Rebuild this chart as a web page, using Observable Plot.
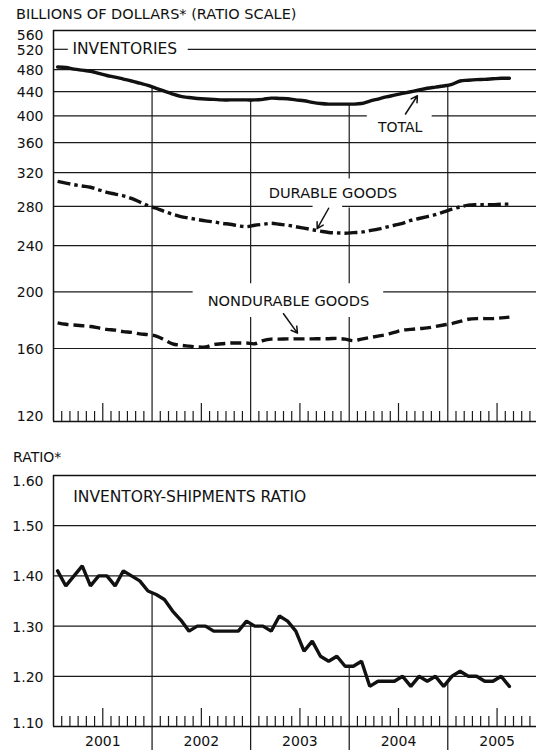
<!DOCTYPE html>
<html><head><meta charset="utf-8">
<script src="https://cdn.jsdelivr.net/npm/d3@7"></script>
<script src="https://cdn.jsdelivr.net/npm/@observablehq/plot@0.6"></script>
<style>
body{margin:0;background:#fff;}
#wrap{position:relative;width:536px;height:750px;overflow:hidden;font-family:"DejaVu Sans",sans-serif;color:#111;background:#fff;}
.lbl{position:absolute;white-space:nowrap;line-height:1;}
.panel{position:absolute;left:0;}
</style></head><body>
<div id="wrap">
  <div class="panel" id="topPanel" style="top:0px"></div>
  <div class="panel" id="botPanel" style="top:440px"></div>
  <div class="lbl" style="left:16px;top:7px;font-size:14.5px">BILLIONS OF DOLLARS* (RATIO SCALE)</div>
  <div class="lbl" style="left:13px;top:450px;font-size:14px">RATIO*</div>
</div>
<script>
// ---------- data ----------
const months = [
 "2001-01","2001-02","2001-03","2001-04","2001-05","2001-06","2001-07","2001-08","2001-09","2001-10","2001-11","2001-12",
 "2002-01","2002-02","2002-03","2002-04","2002-05","2002-06","2002-07","2002-08","2002-09","2002-10","2002-11","2002-12",
 "2003-01","2003-02","2003-03","2003-04","2003-05","2003-06","2003-07","2003-08","2003-09","2003-10","2003-11","2003-12",
 "2004-01","2004-02","2004-03","2004-04","2004-05","2004-06","2004-07","2004-08","2004-09","2004-10","2004-11","2004-12",
 "2005-01","2005-02","2005-03","2005-04","2005-05","2005-06","2005-07","2005-08"];
const total = [485,484,481,479,477,473,469,466,462.5,459,455,451,
 446,441,436,432,430,428.5,427.5,427,426,426,426,426,
 426,427,429,428.5,428,426,424.7,422,420,419,419,419,
 419,420,424,427.5,431,434,437,440,443,446,448,450,
 453,459,460.4,461.5,462,463,464,464];
const durable = [309,307,305,303.5,302,299,296,294,292,289,285,281,
 278,274.5,271.5,269,267.5,266,264.5,263.5,262,261,259.5,258.5,
 260,261,262,261,260,258.5,257,255.5,254,252.7,252.3,252,
 252.5,253,254.5,256,258,260,262,265,267,269,271,274,
 277,279.5,281.5,282,282,282,282.5,282.5];
const nondurable = [177,176,175.5,175,174.5,173.5,172.5,172,171,170.5,169.5,169,
 168,165.5,163,162,161.5,161,161,162.5,163,163.5,163.5,163.5,
 163,165,166,166,166.2,166.2,166.2,166.2,166.3,166.3,166.5,166,
 165,166,167,168,169,170.5,172,172.5,173,173.5,174.5,175.5,
 176.5,178,179.5,180,180,180,180.5,181];
const ratio = [1.41,1.38,1.40,1.42,1.38,1.40,1.40,1.38,1.41,1.40,1.39,1.37,
 1.363,1.353,1.33,1.312,1.29,1.30,1.30,1.29,1.29,1.29,1.29,1.31,
 1.30,1.30,1.29,1.32,1.31,1.29,1.25,1.27,1.24,1.23,1.24,1.22,
 1.22,1.23,1.18,1.19,1.19,1.19,1.20,1.18,1.20,1.19,1.20,1.18,
 1.20,1.21,1.20,1.20,1.19,1.19,1.20,1.18];
const years = ["2001","2002","2003","2004","2005"];
const invTicks = [560,520,480,440,400,360,320,280,240,200,160,120];
const ratioTicks = [1.60,1.50,1.40,1.30,1.20,1.10];
// label texts and their anchor points (in data units: month index, value)
const invLabels = [
 {text:"INVENTORIES", m:2.3, v:520, anchor:"start", size:15.5},
 {text:"TOTAL", m:42.2, v:382, anchor:"middle", size:14},
 {text:"DURABLE GOODS", m:34.0, v:294.5, anchor:"middle", size:14.6},
 {text:"NONDURABLE GOODS", m:28.6, v:192.6, anchor:"middle", size:14.6}];
const invArrows = [
 {m1:42.85, v1:403, m2:44.3, v2:433},
 {m1:33.5, v1:278, m2:32.1, v2:256.5},
 {m1:28.0, v1:183.5, m2:29.7, v2:170}];
// breaks in grid lines around labels (month ranges) and in year lines (value ranges)
const hGaps = [{v:520,a:1.8,b:16.4},{v:400,a:38.2,b:46.1},{v:280,a:31.6,b:35.2},{v:200,a:17.0,b:40.2}];
const vGaps = [{year:"2003",a:180.7,b:206.5},{year:"2004",a:180.7,b:206.5},{year:"2004",a:278.4,b:312}];
const ratioLabel = {text:"INVENTORY-SHIPMENTS RATIO", m:2.4, v:1.557};

// ---------- derived ----------
const mIdx = months.map(s => { const [y,m] = s.split("-").map(Number); return (y-2001)*12 + (m-1) + 0.5; });
const inv = months.map((s,i) => ({x:mIdx[i], total:total[i], durable:durable[i], nondurable:nondurable[i], ratio:ratio[i]}));
const X_END = 58.8;
const yearStart = y => (Number(y)-2001)*12;
const boundaries = years.slice(1).map(y => ({year:y, x:yearStart(y)}));
const atBoundary = (arr, k) => (arr[k-1] + arr[k]) / 2;
function split(lo, hi, gaps){
  const out=[]; let cur=lo;
  gaps.slice().sort((p,q)=>p.a-q.a).forEach(g=>{ if(g.a>cur) out.push([cur,g.a]); cur=Math.max(cur,g.b); });
  if(hi>cur) out.push([cur,hi]);
  return out;
}
const gridVals = invTicks.filter(v => v!==560 && v!==120);
const hSegs = gridVals.flatMap(v => split(0, X_END, hGaps.filter(g=>g.v===v)).map(([a,b])=>({v,a,b})));
const vSegsTop = boundaries.flatMap(b => split(120, atBoundary(total,b.x), vGaps.filter(g=>g.year===b.year)).map(([a,c])=>({x:b.x,a,b:c})));
const vSegsBot = boundaries.map(b => ({x:b.x, a:1.10, b:atBoundary(ratio,b.x)}));
const monthTicks = d3.range(1, 59).filter(k => k%12!==0);
const smallTicks = monthTicks.filter(k => k%12!==6);
const tallTicks = monthTicks.filter(k => k%12===6);
const yearLabels = years.map(y => ({year:y, x:yearStart(y)+6}));

const INK = "#111";
const GRID = {stroke:"#1a1a1a", strokeWidth:1.2};
const style = {fontFamily:"DejaVu Sans, sans-serif", fontSize:"14px", color:INK, background:"transparent", overflow:"visible"};

// ---------- top panel ----------
const H1 = 430, MT1 = 30, MB1 = 9;
const frame1 = H1 - MT1 - MB1;
const invChart = Plot.plot({
  width:536, height:H1, marginTop:MT1, marginBottom:MB1, marginLeft:53, marginRight:0,
  style,
  x:{domain:[0,X_END], axis:null},
  y:{type:"log", domain:[120,560], label:null},
  marks:[
    Plot.ruleY(hSegs, {y:"v", x1:"a", x2:"b", ...GRID}),
    Plot.ruleY([560,120], {stroke:INK, strokeWidth:1.5}),
    Plot.ruleX([0], {stroke:INK, strokeWidth:1.5}),
    Plot.ruleX(vSegsTop, {x:"x", y1:"a", y2:"b", ...GRID}),
    Plot.ruleX(smallTicks, {x:d=>d, insetTop:frame1-10, ...GRID}),
    Plot.ruleX(tallTicks, {x:d=>d, insetTop:frame1-18, ...GRID}),
    Plot.line(inv, {x:"x", y:"total", curve:"catmull-rom", stroke:INK, strokeWidth:3.4}),
    Plot.line(inv, {x:"x", y:"durable", curve:"catmull-rom", stroke:INK, strokeWidth:3.4, strokeDasharray:"13,4,3.5,4", strokeLinecap:"butt"}),
    Plot.line(inv, {x:"x", y:"nondurable", curve:"catmull-rom", stroke:INK, strokeWidth:3.4, strokeDasharray:"11,5", strokeLinecap:"butt"}),
    ...invLabels.map(l => Plot.text([l], {x:"m", y:"v", text:"text", textAnchor:l.anchor, fontSize:l.size, fill:INK})),
    Plot.arrow(invArrows, {x1:"m1", y1:"v1", x2:"m2", y2:"v2", stroke:INK, strokeWidth:1.5, headLength:7}),
    Plot.axisY(invTicks.slice(1,-1), {tickSize:0, tickPadding:10, fontSize:14, dy:1, tickFormat:d=>String(d), fill:INK}),
    Plot.axisY([560], {tickSize:0, tickPadding:10, fontSize:14, dy:5, tickFormat:d=>String(d), fill:INK}),
    Plot.axisY([120], {tickSize:0, tickPadding:10, fontSize:14, dy:-5, tickFormat:d=>String(d), fill:INK})
  ]
});
document.getElementById("topPanel").appendChild(invChart);

// ---------- bottom panel ----------
const H2 = 310, MT2 = 35, MB2 = 24;
const frame2 = H2 - MT2 - MB2;
const fmt = d3.format(".2f");
const ratioChart = Plot.plot({
  width:536, height:H2, marginTop:MT2, marginBottom:MB2, marginLeft:53, marginRight:0,
  style,
  x:{domain:[0,X_END]},
  y:{domain:[1.10,1.60], label:null},
  marks:[
    Plot.ruleY(ratioTicks.slice(1,-1), {...GRID}),
    Plot.ruleY([1.60,1.10], {stroke:INK, strokeWidth:1.5}),
    Plot.ruleX([0], {stroke:INK, strokeWidth:1.5}),
    Plot.ruleX(vSegsBot, {x:"x", y1:"a", y2:"b", ...GRID}),
    Plot.ruleX(smallTicks, {x:d=>d, insetTop:frame2-10, ...GRID}),
    Plot.ruleX(tallTicks, {x:d=>d, insetTop:frame2-18, ...GRID}),
    Plot.line(inv, {x:"x", y:"ratio", stroke:INK, strokeWidth:3.4, strokeLinejoin:"miter"}),
    Plot.text([ratioLabel], {x:"m", y:"v", text:"text", textAnchor:"start", fontSize:15.5, fill:INK}),
    Plot.axisX(boundaries.map(b=>b.x), {tickSize:26, tickFormat:()=>"", stroke:INK, strokeWidth:1.2, label:null}),
    Plot.text(yearLabels, {x:"x", y:()=>1.10, text:"year", dy:15, fontSize:14, fill:INK}),
    Plot.axisY(ratioTicks.slice(1,-1), {tickSize:0, tickPadding:10, fontSize:14, dy:1, tickFormat:fmt, fill:INK}),
    Plot.axisY([1.60], {tickSize:0, tickPadding:10, fontSize:14, dy:6, tickFormat:fmt, fill:INK}),
    Plot.axisY([1.10], {tickSize:0, tickPadding:10, fontSize:14, dy:-3, tickFormat:fmt, fill:INK})
  ]
});
document.getElementById("botPanel").appendChild(ratioChart);
</script>
</body></html>
